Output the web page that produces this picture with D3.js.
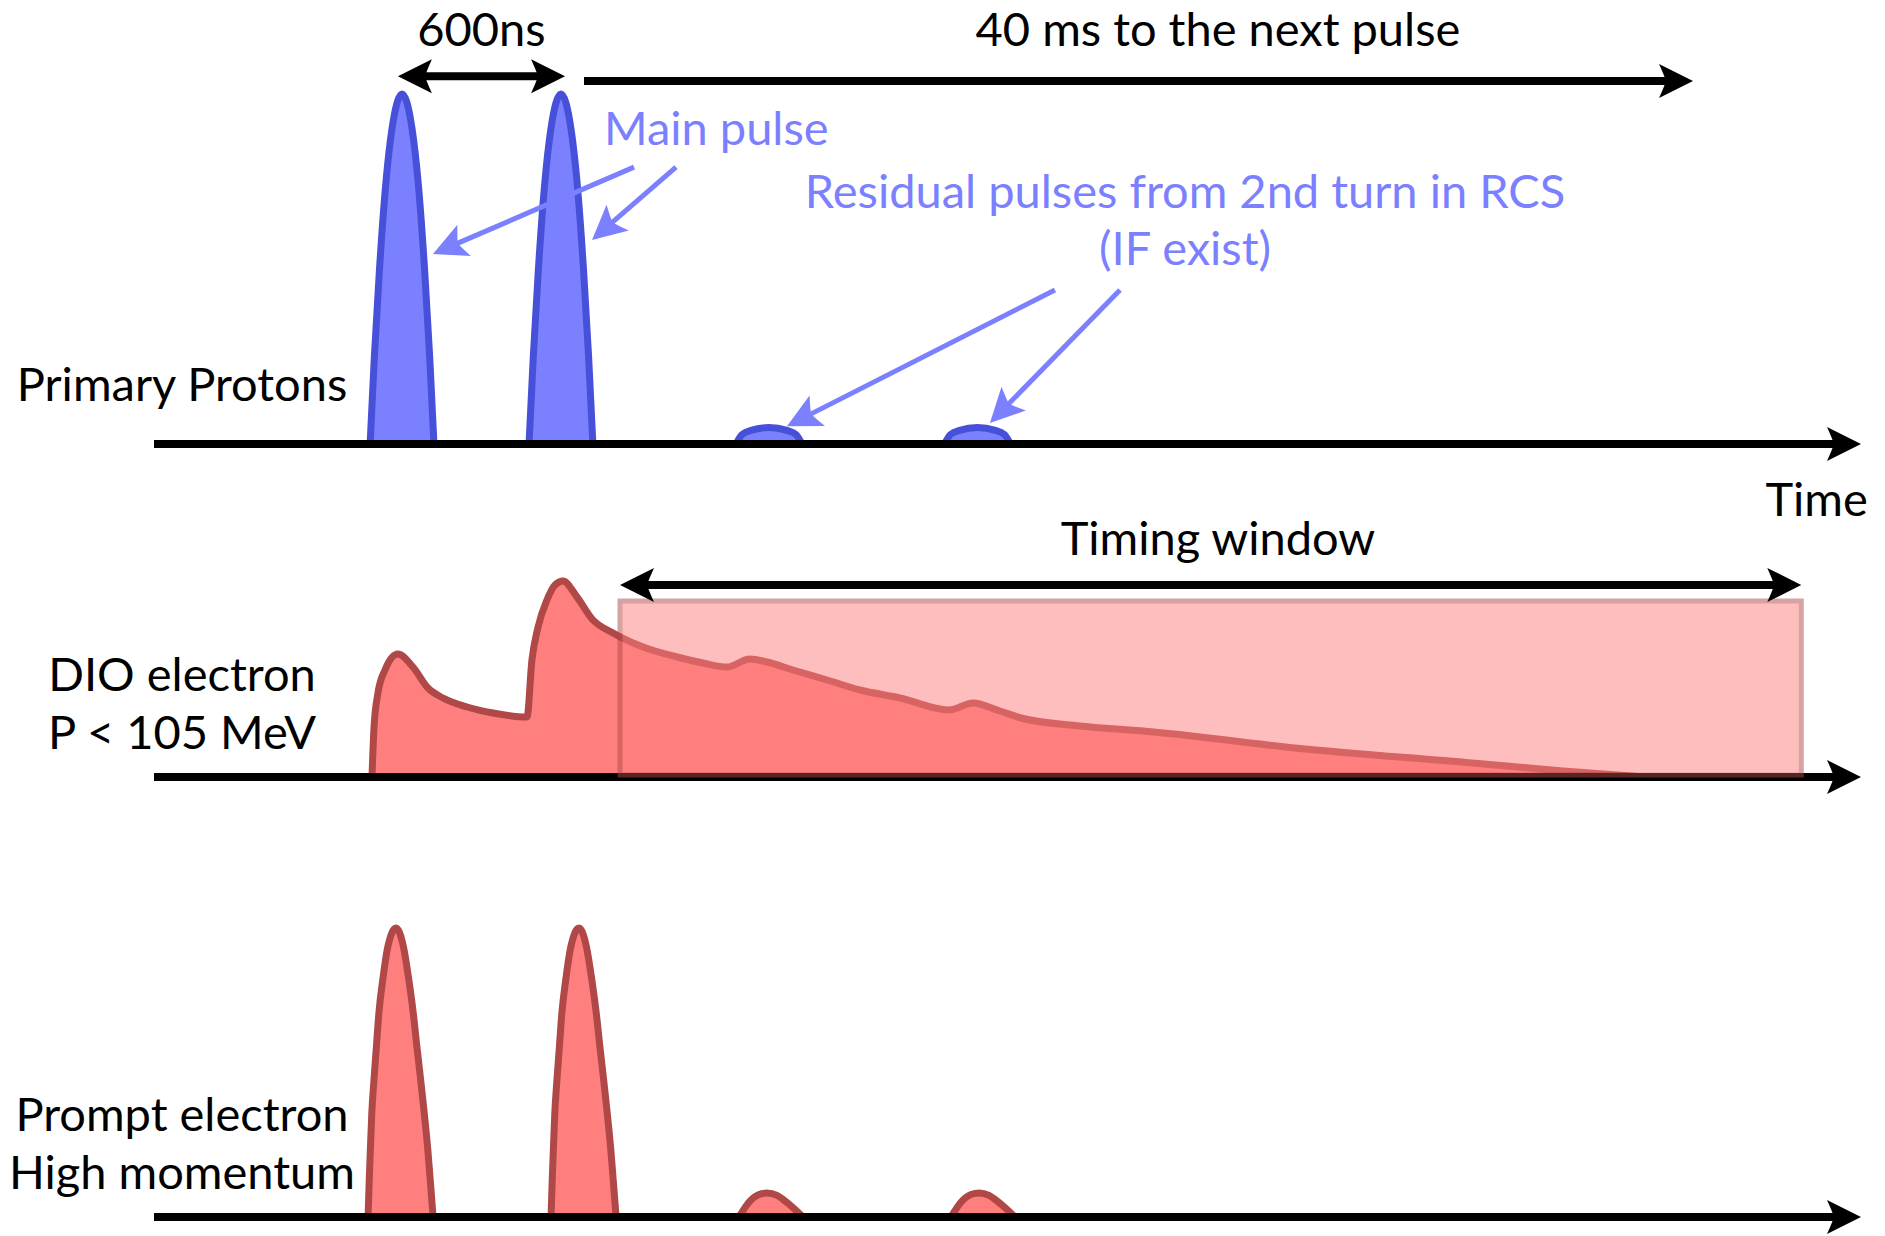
<!DOCTYPE html>
<html><head><meta charset="utf-8">
<script src="https://cdn.jsdelivr.net/npm/d3@7"></script>
<style>
html,body{margin:0;padding:0;background:#fff;}
svg{display:block;}
text{font-family:Lato,"Open Sans",sans-serif;font-weight:400;}
</style>
</head><body>
<svg id="chart" width="1885" height="1236"></svg>
<script>
// ---------------- data (time in arbitrary units 0..100 along the time axis, intensity 0..100) ----------------
const panelLabels = [["Primary Protons"], ["DIO electron", "P < 105 MeV"], ["Prompt electron", "High momentum"]];
const timeDomain = [0, 100];
const intensityDomain = [0, 100];

// Primary protons: two main pulses (600 ns apart) + residual pulses of the 2nd RCS turn
const mainPulseCenters = [14.53, 23.84];
const mainPulseShape = [[-1.87,0],[-1.62,25],[-1.32,50],[-0.94,75],[-0.59,90],[0,100],[0.59,90],[0.94,75],[1.32,50],[1.62,25],[1.87,0]];
const residualCenters = [36.03, 48.24];
const residualShape = [[-1.93,0],[-1.58,2.7],[-1.05,3.9],[0,4.7],[1.05,3.9],[1.58,2.7],[1.93,0]];

// DIO electron time distribution
const dioCurve = [[12.77,0],[12.89,25],[13.12,42],[13.53,53.5],[14.29,61.5],[15.17,55],[16.05,44.5],[16.93,39.5],[18.34,35],[19.86,32],[21.85,30],[22.14,58.5],[22.50,75],[23.02,88.5],[23.49,96],[23.96,98],[24.78,90],[25.66,79],[26.89,72],[28.65,65],[30.64,60],[32.16,57],[33.57,55],[34.91,59],[35.91,57.5],[37.43,53.5],[39.43,48.5],[41.36,43.5],[43.70,39.5],[46.57,33.5],[47.98,37],[49.56,33],[50.79,29.5],[54.25,25.5],[58.58,22.5],[66.84,14.5],[77.21,7],[82.54,3],[87.35,0]];

// Prompt electrons
const promptCenters = [14.18, 24.90];
const promptShape = [[-1.64,0],[-1.57,13],[-1.5,24],[-1.42,36],[-1.3,47],[-1.15,59],[-1.0,71],[-0.78,82],[-0.5,93],[0,100],[0.45,93],[0.75,82],[1.0,71],[1.22,59],[1.45,47],[1.65,36],[1.85,24],[2.0,13],[2.17,0]];
const promptResidualCenters = [35.91, 48.33];
const promptResidualShape = [[-1.64,0],[-1.0,5.5],[-0.47,7.8],[0,8.3],[0.59,7.5],[1.17,5],[2.11,0]];

// Timing window
const timingWindow = [27.3, 96.5];

// annotation texts
const topTexts = {spacing: "600ns", next: "40 ms to the next pulse", main: "Main pulse",
  residual: ["Residual pulses from 2nd turn in RCS", "(IF exist)"], time: "Time", window: "Timing window"};

// ---------------- drawing ----------------
const svg = d3.select("#chart");
const FS = 47;
const BLUE_FILL = "#7b80ff", BLUE_STROKE = "#4650d8", RED_FILL = "#ff7f7f", RED_STROKE = "#b04848";

const x = d3.scaleLinear().domain(timeDomain).range([154, 1861]);
const yTop = d3.scaleLinear().domain(intensityDomain).range([444, 94]);
const yMid = d3.scaleLinear().domain(intensityDomain).range([777, 577]);
const yBot = d3.scaleLinear().domain(intensityDomain).range([1217, 928]);

const HEAD = "M0,0 L-34,-17 Q-29,-6 -27,0 Q-29,6 -34,17 Z";
function head(g, px, py, deg, color) {
  g.append("path").attr("d", HEAD).attr("fill", color)
    .attr("transform", `translate(${px},${py}) rotate(${deg})`);
}
function arrow(g, x1, y1, x2, y2, color, w, dbl) {
  const a = Math.atan2(y2 - y1, x2 - x1), c = Math.cos(a), s = Math.sin(a), back = 26;
  const sx = dbl ? x1 + back * c : x1, sy = dbl ? y1 + back * s : y1;
  g.append("line").attr("x1", sx).attr("y1", sy).attr("x2", x2 - back * c).attr("y2", y2 - back * s)
    .attr("stroke", color).attr("stroke-width", w);
  head(g, x2, y2, a * 180 / Math.PI, color);
  if (dbl) head(g, x1, y1, a * 180 / Math.PI + 180, color);
}
function timeAxis(g, yScale) {
  arrow(g, x(timeDomain[0]), yScale(0), x(timeDomain[1]), yScale(0), "#000", 8, false);
}
function pulses(g, centers, shape, yScale, fill, stroke, sw) {
  const area = d3.area().x(d => x(d[0])).y0(yScale(0)).y1(d => yScale(d[1])).curve(d3.curveMonotoneX);
  const line = d3.line().x(d => x(d[0])).y(d => yScale(d[1])).curve(d3.curveMonotoneX);
  centers.forEach(cn => {
    const pts = shape.map(p => [cn + p[0], p[1]]);
    g.append("path").datum(pts).attr("d", area).attr("fill", fill);
    g.append("path").datum(pts).attr("d", line).attr("fill", "none").attr("stroke", stroke)
      .attr("stroke-width", sw).attr("stroke-linejoin", "round");
  });
}
function label(g, lines, yScale, vals) {
  lines.forEach((t, i) => g.append("text").attr("x", x(1.64)).attr("y", yScale(vals[i]))
    .attr("text-anchor", "middle").attr("font-size", FS).attr("fill", "#000").text(t));
}

// ---- top panel: primary protons ----
const gTop = svg.append("g");
pulses(gTop, mainPulseCenters, mainPulseShape, yTop, BLUE_FILL, BLUE_STROKE, 7);
pulses(gTop, residualCenters, residualShape, yTop, BLUE_FILL, BLUE_STROKE, 7);
timeAxis(gTop, yTop);
label(gTop, panelLabels[0], yTop, [12.3]);
gTop.append("text").attr("x", x(100.4)).attr("y", yTop(-20.6)).attr("text-anchor", "end")
  .attr("font-size", FS).text(topTexts.time);
// 600ns spacing arrow
arrow(gTop, x(14.29), yTop(105.1), x(24.08), yTop(105.1), "#000", 8, true);
gTop.append("text").attr("x", x(d3.mean(mainPulseCenters))).attr("y", yTop(113.7)).attr("text-anchor", "middle")
  .attr("font-size", FS).text(topTexts.spacing);
// 40 ms arrow
arrow(gTop, x(25.19), yTop(103.7), x(90.16), yTop(103.7), "#000", 8, false);
gTop.append("text").attr("x", x(62.33)).attr("y", yTop(113.7)).attr("text-anchor", "middle")
  .attr("font-size", FS).text(topTexts.next);
// main pulse annotation
gTop.append("text").attr("x", x(26.36)).attr("y", yTop(85.4)).attr("font-size", FS).attr("fill", BLUE_FILL).text(topTexts.main);
arrow(gTop, x(28.12), yTop(79.1), x(16.34), yTop(54.3), BLUE_FILL, 5, false);
arrow(gTop, x(30.58), yTop(79.1), x(25.66), yTop(58.3), BLUE_FILL, 5, false);
// residual annotation
topTexts.residual.forEach((t, i) => gTop.append("text").attr("x", x(60.40)).attr("y", yTop([67.4, 51.1][i]))
  .attr("text-anchor", "middle").attr("font-size", FS).attr("fill", BLUE_FILL).text(t));
arrow(gTop, x(52.78), yTop(44), x(37.08), yTop(5.1), BLUE_FILL, 5, false);
arrow(gTop, x(56.59), yTop(44), x(48.97), yTop(6.0), BLUE_FILL, 5, false);

// ---- middle panel: DIO electrons ----
const gMid = svg.append("g");
gMid.append("path").datum(dioCurve)
  .attr("d", d3.area().x(d => x(d[0])).y0(yMid(0)).y1(d => yMid(d[1])).curve(d3.curveMonotoneX))
  .attr("fill", RED_FILL);
gMid.append("path").datum(dioCurve)
  .attr("d", d3.line().x(d => x(d[0])).y(d => yMid(d[1])).curve(d3.curveMonotoneX))
  .attr("fill", "none").attr("stroke", RED_STROKE).attr("stroke-width", 7).attr("stroke-linejoin", "round");
timeAxis(gMid, yMid);
gMid.append("g").attr("opacity", 0.5).append("rect")
  .attr("x", x(timingWindow[0])).attr("width", x(timingWindow[1]) - x(timingWindow[0]))
  .attr("y", yMid(88)).attr("height", yMid(1) - yMid(88))
  .attr("fill", RED_FILL).attr("stroke", RED_STROKE).attr("stroke-width", 5);
arrow(gMid, x(timingWindow[0]), yMid(96), x(timingWindow[1]), yMid(96), "#000", 8, true);
gMid.append("text").attr("x", x(62.33)).attr("y", yMid(111)).attr("text-anchor", "middle")
  .attr("font-size", FS).text(topTexts.window);
label(gMid, panelLabels[1], yMid, [43, 14]);

// ---- bottom panel: prompt electrons ----
const gBot = svg.append("g");
pulses(gBot, promptCenters, promptShape, yBot, RED_FILL, RED_STROKE, 7);
pulses(gBot, promptResidualCenters, promptResidualShape, yBot, RED_FILL, RED_STROKE, 7);
timeAxis(gBot, yBot);
label(gBot, panelLabels[2], yBot, [29.8, 9.7]);
</script>
</body></html>
